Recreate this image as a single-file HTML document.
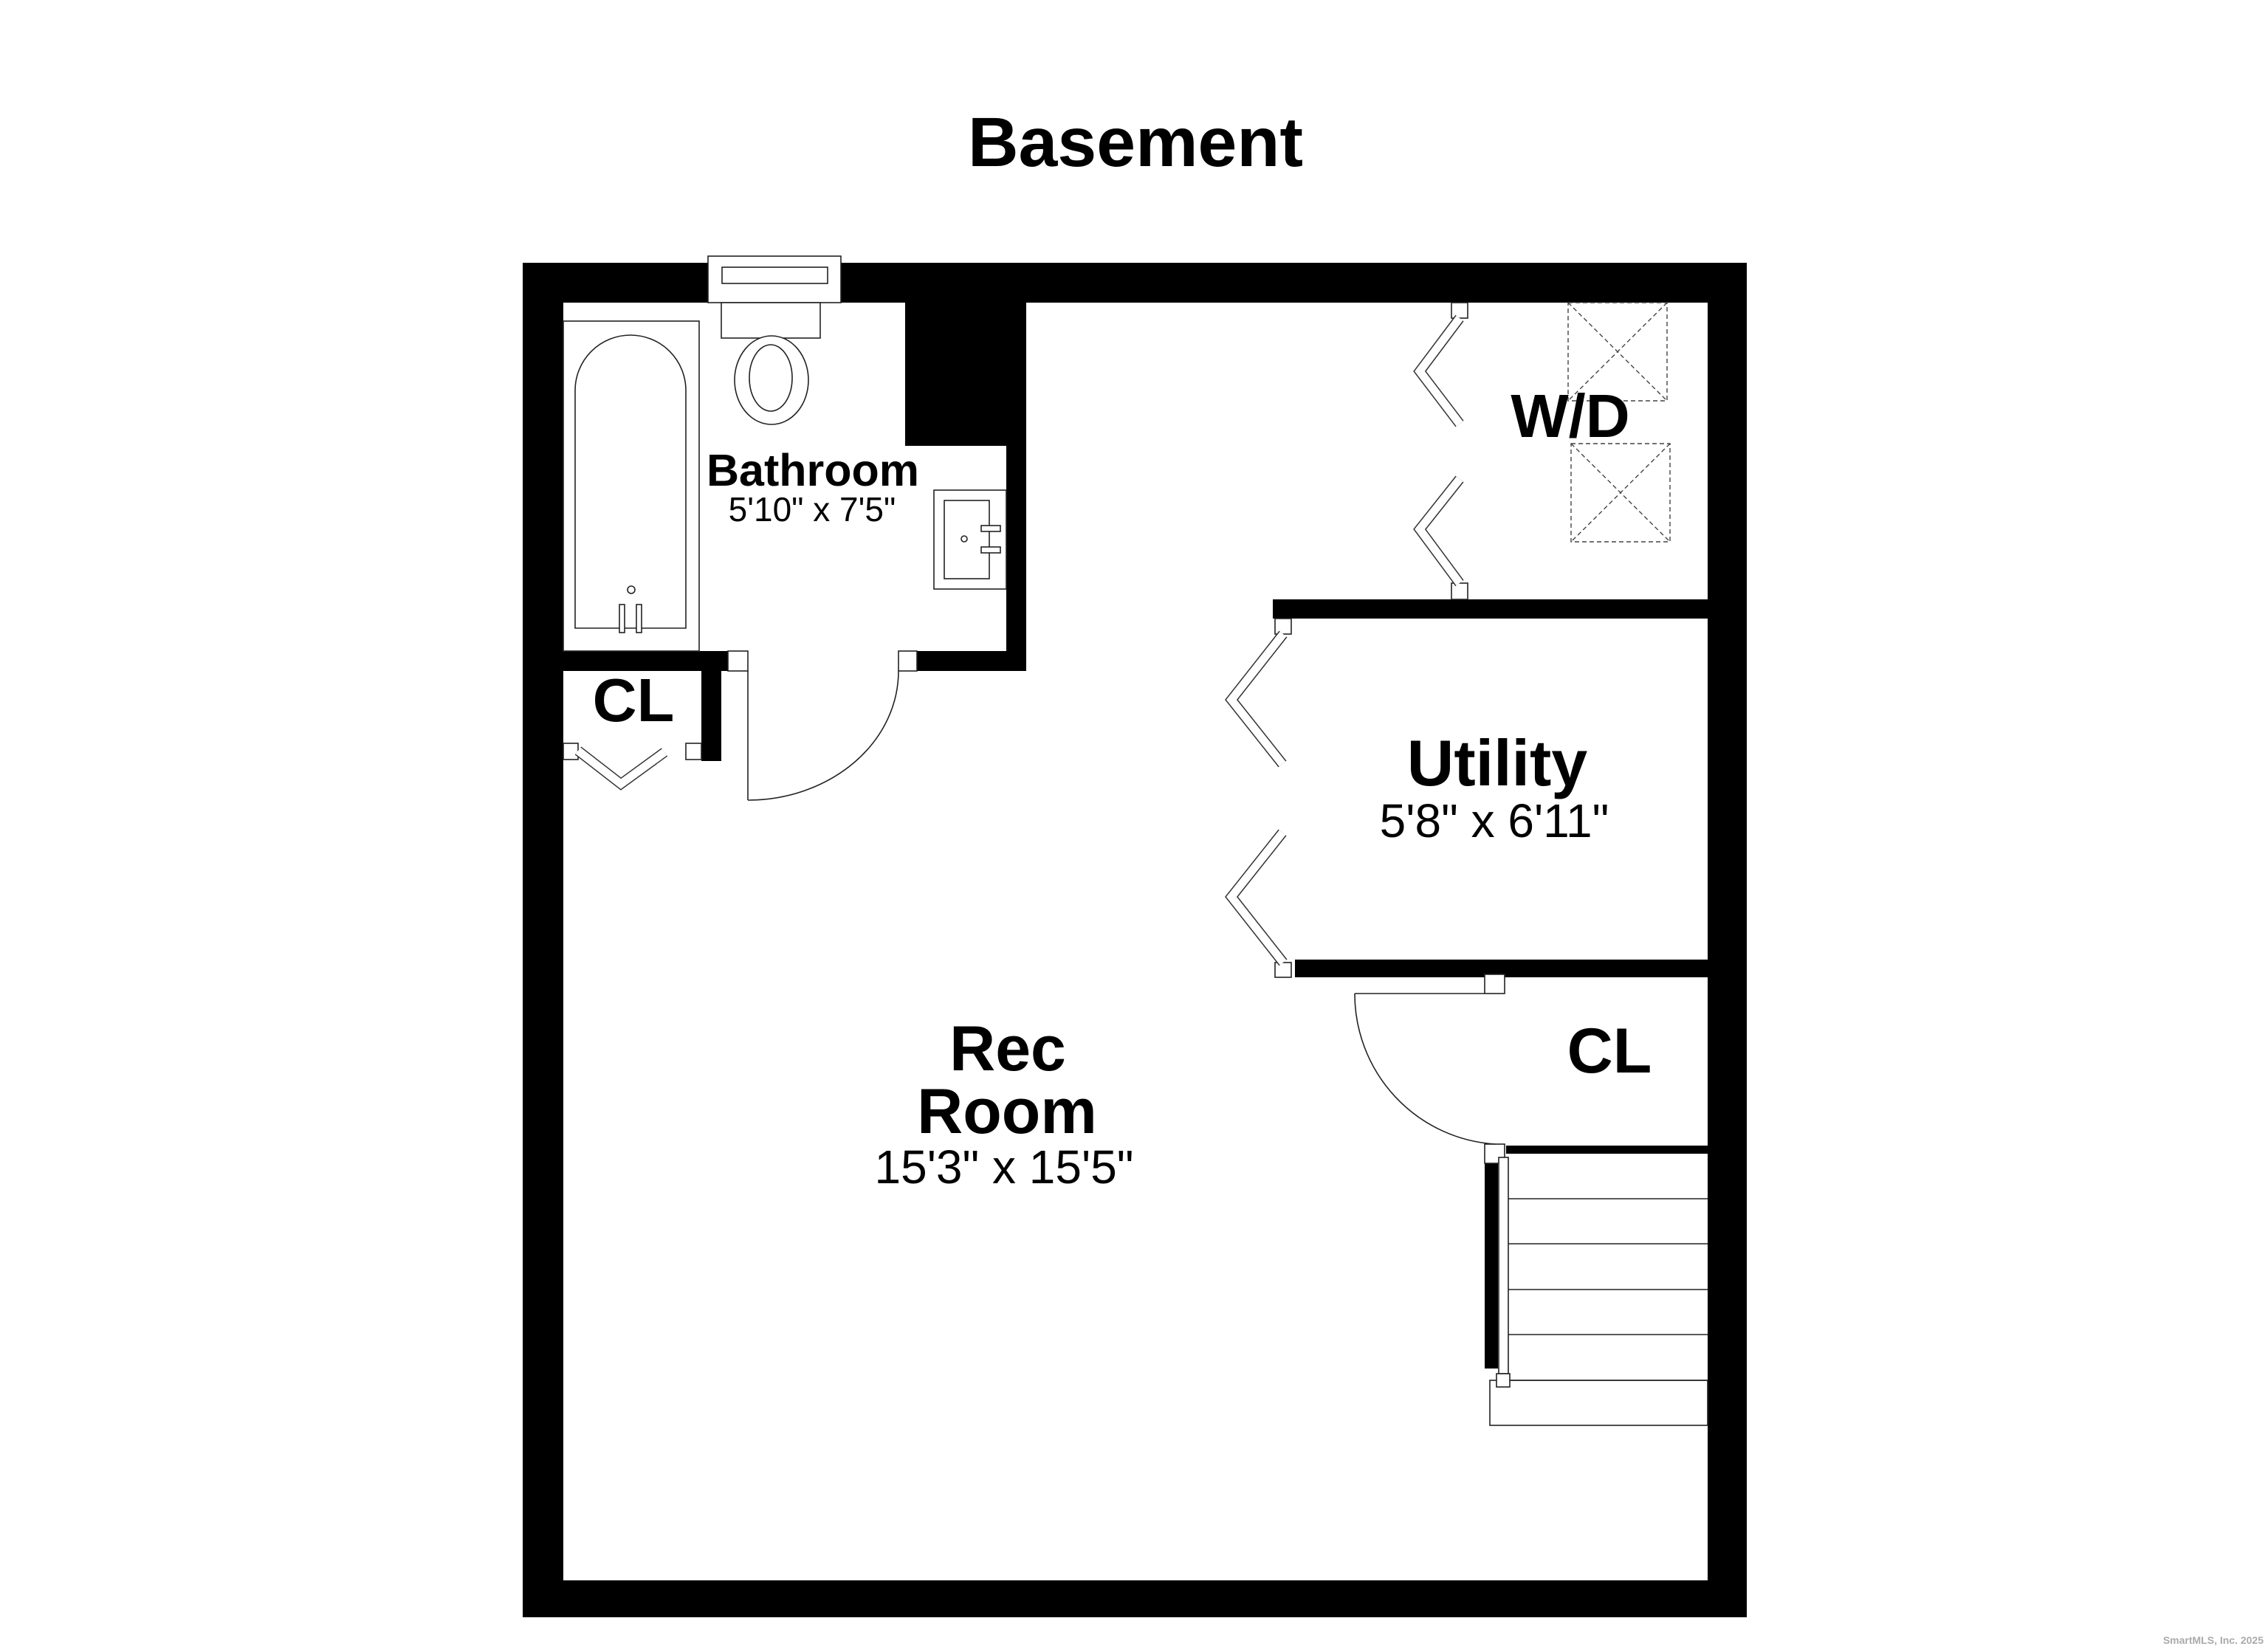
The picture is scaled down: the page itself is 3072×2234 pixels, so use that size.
<!DOCTYPE html>
<html><head><meta charset="utf-8"><style>
html,body{margin:0;padding:0;background:#fff;}
svg{display:block;}
text{font-family:"Liberation Sans",Arial,sans-serif;fill:#000;}
</style></head><body>
<svg width="3072" height="2234" viewBox="0 0 3072 2234" xmlns="http://www.w3.org/2000/svg">
<rect width="3072" height="2234" fill="#fff"/>
<text x="1538" y="225" font-size="95" font-weight="bold" text-anchor="middle">Basement</text>

<g fill="#000">
<rect x="708" y="356" width="251" height="54"/>
<rect x="1139" y="356" width="1227" height="54"/>
<rect x="708" y="356" width="55" height="1835"/>
<rect x="2313" y="356" width="53" height="1835"/>
<rect x="708" y="2141" width="1658" height="50"/>
<rect x="1226" y="410" width="137" height="194"/>
<rect x="1363" y="410" width="27" height="499"/>
<rect x="763" y="882" width="223" height="27"/>
<rect x="1242" y="882" width="148" height="27"/>
<rect x="950" y="909" width="27" height="122"/>
<rect x="1724" y="812" width="591" height="26"/>
<rect x="1754" y="1300" width="561" height="24"/>
<rect x="2040" y="1552" width="275" height="11"/>
<rect x="2011" y="1576" width="18" height="278"/>
</g>

<g fill="#fff" stroke="#222" stroke-width="1.6">
<rect x="959" y="347" width="180" height="63"/>
<rect x="978" y="362" width="143" height="22"/>
<rect x="977" y="410" width="134" height="48"/>
<ellipse cx="1045" cy="515" rx="50" ry="60"/>
<ellipse cx="1044" cy="512" rx="29" ry="45"/>
<rect x="763" y="435" width="184" height="447"/>
<path d="M779 851 L779 529 A75 75 0 0 1 929 529 L929 851 Z"/>
<circle cx="855" cy="799" r="5"/>
<rect x="839" y="819" width="7" height="38"/>
<rect x="862" y="819" width="7" height="38"/>
<rect x="1265" y="664" width="98" height="134"/>
<rect x="1279" y="678" width="61" height="106"/>
<circle cx="1306" cy="730" r="4"/>
<rect x="1329" y="712" width="26" height="8"/>
<rect x="1329" y="741" width="26" height="8"/>
<rect x="986" y="882" width="27" height="27"/>
<rect x="1217" y="882" width="25" height="27"/>
<rect x="763" y="1007" width="20" height="22"/>
<rect x="929" y="1007" width="21" height="22"/>
<rect x="1966" y="410" width="22" height="21"/>
<rect x="1966" y="790" width="22" height="22"/>
<rect x="1727" y="838" width="22" height="21"/>
<rect x="1727" y="1304" width="22" height="20"/>
<rect x="2011" y="1320" width="27" height="26"/>
<rect x="2011" y="1550" width="27" height="26"/>
<rect x="2018" y="1870" width="295" height="61"/>
<rect x="2030" y="1568" width="13" height="293"/>
<rect x="2027" y="1861" width="18" height="18"/>
</g>
<g stroke="#222" stroke-width="1.6" fill="none">
<line x1="2043" y1="1624" x2="2313" y2="1624"/>
<line x1="2043" y1="1685" x2="2313" y2="1685"/>
<line x1="2043" y1="1747" x2="2313" y2="1747"/>
<line x1="2043" y1="1808" x2="2313" y2="1808"/>
<line x1="2045" y1="1870" x2="2313" y2="1870"/>
<line x1="1013" y1="909" x2="1013" y2="1084"/>
<path d="M1013 1084 A204 175 0 0 0 1217 909"/>
<line x1="1835" y1="1346" x2="2011" y2="1346"/>
<path d="M1835 1346 A203 204 0 0 0 2025 1550"/>
</g>

<g fill="none" stroke-linejoin="miter" stroke-linecap="butt">
<g stroke="#333" stroke-width="14">
<polyline points="783,1017 841,1062 900,1019"/>
<polyline points="1977,431 1923,503 1977,574"/>
<polyline points="1977,649 1923,717 1977,790"/>
<polyline points="1738,859 1668,948 1737,1035"/>
<polyline points="1737,1128 1668,1215 1738,1304"/>
</g>
<g stroke="#fff" stroke-width="11">
<polyline points="783,1017 841,1062 900,1019"/>
<polyline points="1977,431 1923,503 1977,574"/>
<polyline points="1977,649 1923,717 1977,790"/>
<polyline points="1738,859 1668,948 1737,1035"/>
<polyline points="1737,1128 1668,1215 1738,1304"/>
</g>
</g>

<g fill="none" stroke="#444" stroke-width="1.4" stroke-dasharray="6,4">
<rect x="2124" y="410" width="134" height="133"/>
<line x1="2124" y1="410" x2="2258" y2="543"/>
<line x1="2258" y1="410" x2="2124" y2="543"/>
<rect x="2128" y="601" width="134" height="133"/>
<line x1="2128" y1="601" x2="2262" y2="734"/>
<line x1="2262" y1="601" x2="2128" y2="734"/>
</g>

<text x="1101" y="658" font-size="61" font-weight="bold" text-anchor="middle">Bathroom</text>
<text x="1100" y="706" font-size="46" text-anchor="middle">5'10" x 7'5"</text>
<text x="858" y="977" font-size="83" font-weight="bold" text-anchor="middle">CL</text>
<text x="2127" y="592" font-size="83" font-weight="bold" text-anchor="middle">W/D</text>
<text x="2028" y="1064" font-size="88" font-weight="bold" text-anchor="middle">Utility</text>
<text x="2024" y="1134" font-size="64" text-anchor="middle">5'8" x 6'11"</text>
<text x="2180" y="1453" font-size="86" font-weight="bold" text-anchor="middle">CL</text>
<text x="1365" y="1450" font-size="86" font-weight="bold" text-anchor="middle">Rec</text>
<text x="1364" y="1535" font-size="86" font-weight="bold" text-anchor="middle">Room</text>
<text x="1360" y="1603" font-size="64" text-anchor="middle">15'3" x 15'5"</text>
<text x="3066" y="2227" font-size="14" font-weight="bold" text-anchor="end" style="fill:#aaa">SmartMLS, Inc.  2025</text>
</svg>
</body></html>
